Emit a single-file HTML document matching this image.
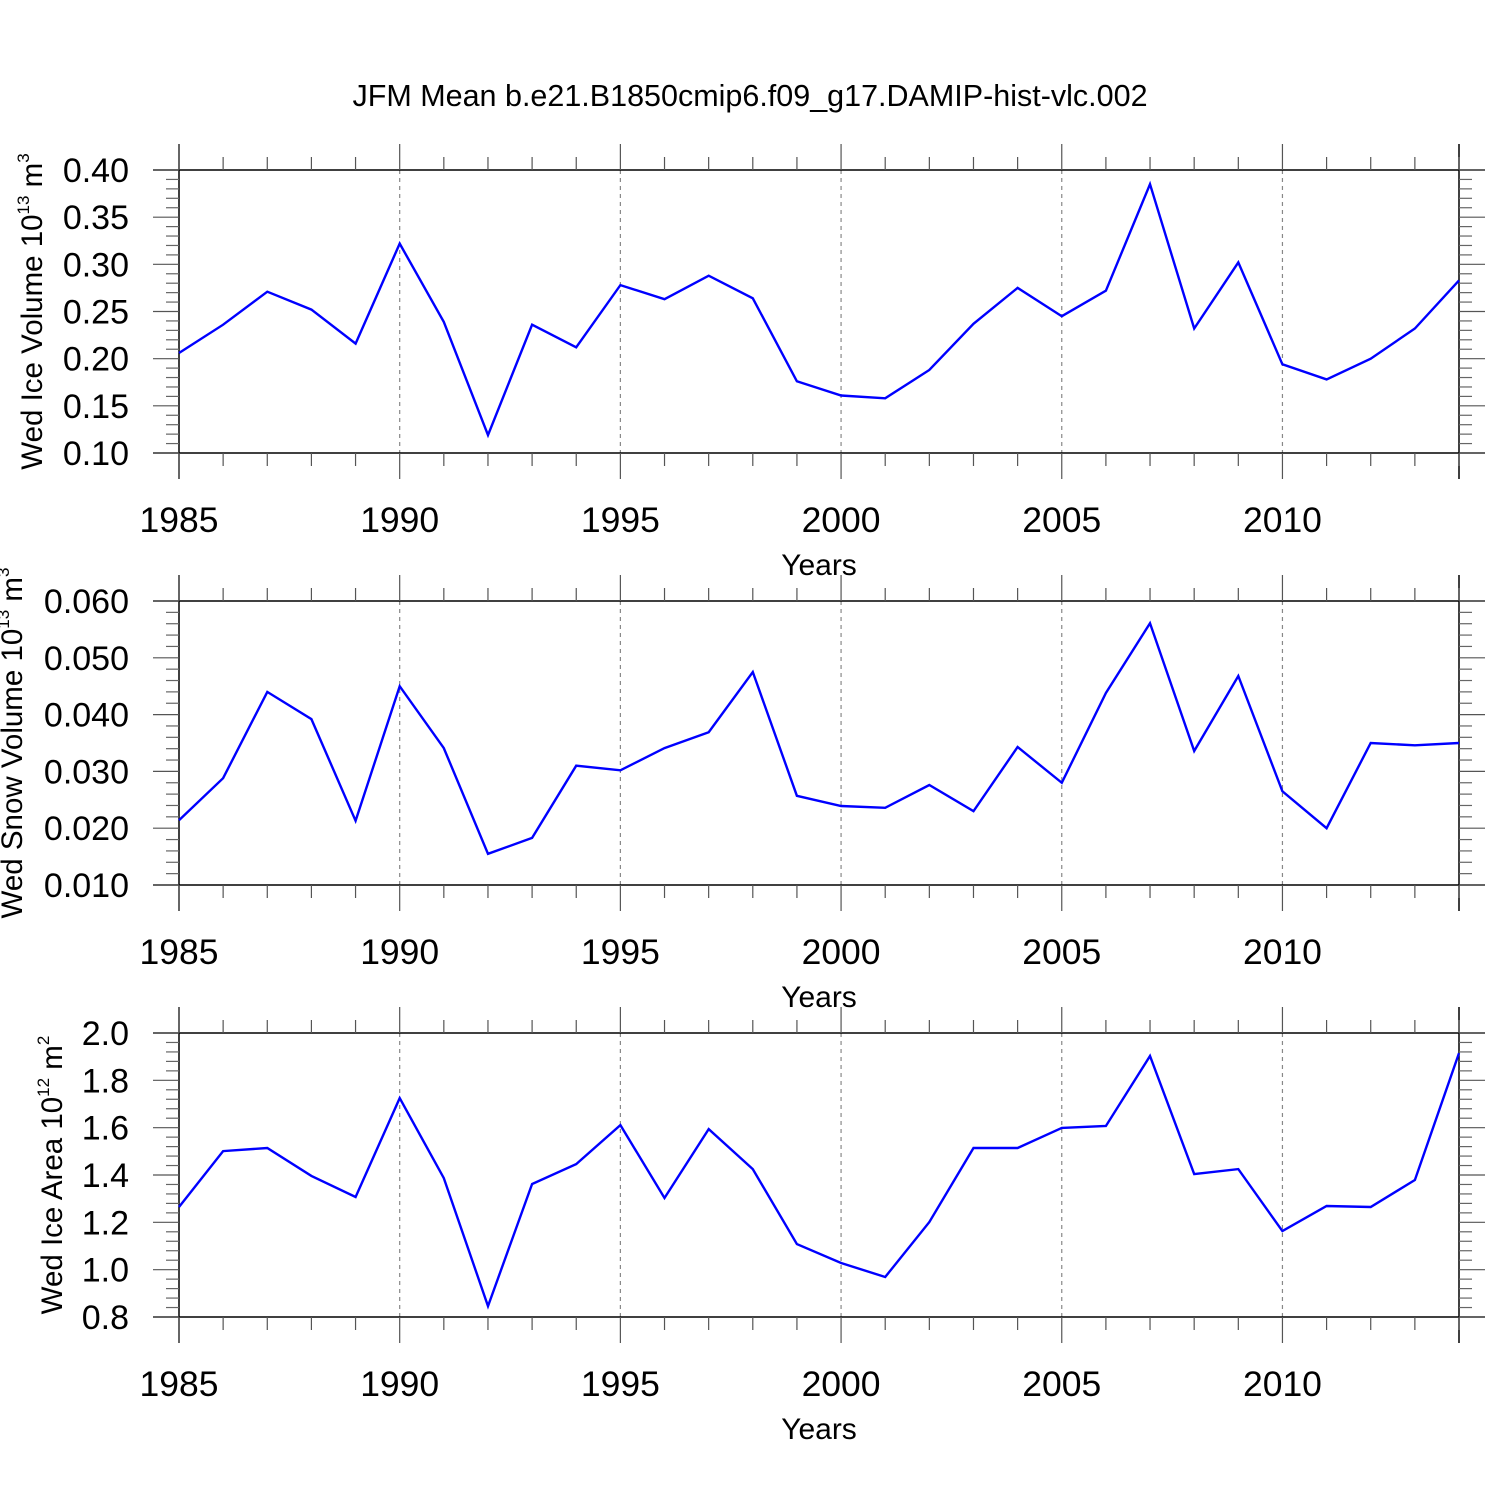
<!DOCTYPE html>
<html><head><meta charset="utf-8"><style>
html,body{margin:0;padding:0;background:#fff;}
svg{display:block;font-family:"Liberation Sans",Arial,sans-serif;}
</style></head><body>
<svg id="chart" width="1500" height="1500" viewBox="0 0 1500 1500" xmlns="http://www.w3.org/2000/svg">
<rect width="1500" height="1500" fill="#fff"/>
<text x="750" y="106" font-size="30.5" text-anchor="middle">JFM Mean b.e21.B1850cmip6.f09_g17.DAMIP-hist-vlc.002</text>
</svg>
<script>
const years = [1985,1986,1987,1988,1989,1990,1991,1992,1993,1994,1995,1996,1997,1998,1999,2000,2001,2002,2003,2004,2005,2006,2007,2008,2009,2010,2011,2012,2013,2014];
const iceVolume = [0.206,0.236,0.271,0.252,0.216,0.322,0.239,0.119,0.236,0.212,0.278,0.263,0.288,0.264,0.176,0.161,0.158,0.188,0.237,0.275,0.245,0.272,0.385,0.232,0.302,0.194,0.178,0.200,0.232,0.283];
const snowVolume = [0.0214,0.0288,0.0440,0.0392,0.0213,0.0450,0.0341,0.0155,0.0183,0.0310,0.0302,0.0341,0.0369,0.0475,0.0257,0.0239,0.0236,0.0276,0.0230,0.0343,0.0280,0.0438,0.0561,0.0336,0.0468,0.0265,0.0200,0.0350,0.0346,0.0350];
const iceArea = [1.265,1.501,1.514,1.396,1.307,1.725,1.387,0.846,1.362,1.446,1.611,1.303,1.594,1.425,1.108,1.028,0.969,1.201,1.514,1.514,1.599,1.607,1.903,1.404,1.425,1.163,1.269,1.265,1.379,1.915];
const xTickLabels = [1985,1990,1995,2000,2005,2010];
const ticks1 = ["0.10","0.15","0.20","0.25","0.30","0.35","0.40"];
const ticks2 = ["0.010","0.020","0.030","0.040","0.050","0.060"];
const ticks3 = ["0.8","1.0","1.2","1.4","1.6","1.8","2.0"];

const NS="http://www.w3.org/2000/svg";
const svg=document.getElementById('chart');
function mk(tag,attrs,parent){const e=document.createElementNS(NS,tag);for(const k in attrs)e.setAttribute(k,attrs[k]);(parent||svg).appendChild(e);return e;}
const X0=179,X1=1459;
function xs(y){return X0+(y-1985)/(2014-1985)*(X1-X0);}

function panel(idx,top,bot,ticks,ymin,ymax,data,titleParts,titleX){
  const g=mk('g',{});
  
  
  const ys=v=>bot-(v-ymin)/(ymax-ymin)*(bot-top);
  xTickLabels.slice(1).forEach(yr=>{
    const l=mk('line',{x1:xs(yr),x2:xs(yr),y1:top,y2:bot,stroke:'#888','stroke-width':1.2,'stroke-dasharray':'4,4'},g);
    
    
  });
  const axisStyle={stroke:'#000','stroke-width':1.5};
  mk('line',Object.assign({x1:X0,x2:X0,y1:top-26,y2:bot+26},axisStyle),g);
  mk('line',Object.assign({x1:X1,x2:X1,y1:top-26,y2:bot+26},axisStyle),g);
  mk('line',Object.assign({x1:X0-26,x2:X1+26,y1:top,y2:top},axisStyle),g);
  mk('line',Object.assign({x1:X0-26,x2:X1+26,y1:bot,y2:bot},axisStyle),g);
  years.forEach(yr=>{
    const major=(yr%5===0);const L=major?26:13;const x=xs(yr);
    mk('line',{x1:x,x2:x,y1:top-L,y2:top,stroke:'#555','stroke-width':1.2},g);
    mk('line',{x1:x,x2:x,y1:bot,y2:bot+L,stroke:'#555','stroke-width':1.2},g);
  });
  xTickLabels.forEach(yr=>{
    const t=mk('text',{x:xs(yr),y:bot+79,'font-size':35.5,'text-anchor':'middle'},g);
    
    
    t.textContent=yr;
  });
  const xt=mk('text',{x:819,y:bot+122,'font-size':30,'text-anchor':'middle'},g);
  
  
  xt.textContent='Years';
  const step=(ymax-ymin)/(ticks.length-1);
  for(let i=0;i<ticks.length;i++){
    const v=ymin+i*step;const y=ys(v);
    mk('line',{x1:X0-26,x2:X0,y1:y,y2:y,stroke:'#555','stroke-width':1.2},g);
    mk('line',{x1:X1,x2:X1+26,y1:y,y2:y,stroke:'#555','stroke-width':1.2},g);
    const t=mk('text',{x:129,y:y+12,'font-size':34,'text-anchor':'end'},g);
    
    
    t.textContent=ticks[i];
    if(i<ticks.length-1){for(let m=1;m<5;m++){const ym=ys(v+step*m/5);
      mk('line',{x1:X0-13,x2:X0,y1:ym,y2:ym,stroke:'#666','stroke-width':1.2},g);
      mk('line',{x1:X1,x2:X1+13,y1:ym,y2:ym,stroke:'#666','stroke-width':1.2},g);}}
  }
  const cy=(top+bot)/2;
  const yt=mk('text',{x:titleX,y:cy,'font-size':29.5,'text-anchor':'middle',transform:`rotate(-90 ${titleX} ${cy})`},g);
  
  
  yt.appendChild(document.createTextNode(titleParts[0]));
  const s1=mk('tspan',{'font-size':17,dy:-13},yt);s1.textContent=titleParts[1];
  const s2=mk('tspan',{dy:13},yt);s2.textContent=titleParts[2];
  const s3=mk('tspan',{'font-size':17,dy:-13},yt);s3.textContent=titleParts[3];
  const pts=data.map((v,i)=>xs(years[i]).toFixed(1)+','+ys(v).toFixed(1)).join(' ');
  const pl=mk('polyline',{points:pts,fill:'none',stroke:'#0000ff','stroke-width':2.4,'stroke-linejoin':'miter'},g);
  
  
}
panel(1,170,453,ticks1,0.10,0.40,iceVolume,['Wed Ice Volume 10','13',' m','3'],42);
panel(2,601,885,ticks2,0.010,0.060,snowVolume,['Wed Snow Volume 10','13',' m','3'],22);
panel(3,1033,1317,ticks3,0.8,2.0,iceArea,['Wed Ice Area 10','12',' m','2'],62);
</script>
</body></html>
